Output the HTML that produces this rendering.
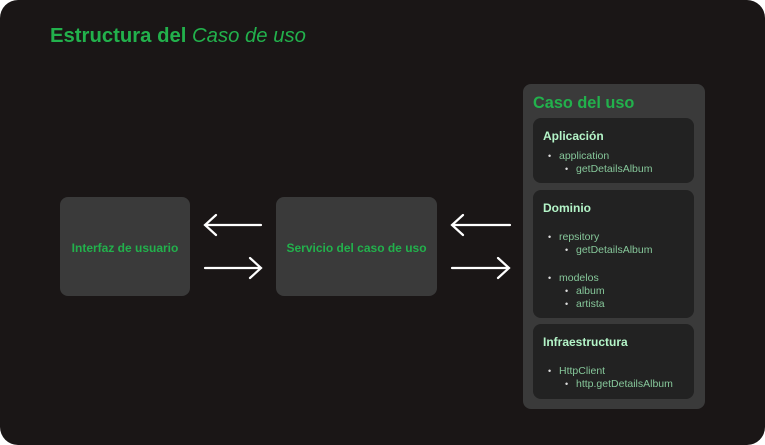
<!DOCTYPE html>
<html><head><style>
*{margin:0;padding:0;box-sizing:border-box}
body{width:765px;height:445px;background:#fff;font-family:"Liberation Sans",sans-serif;overflow:hidden}
#bg{position:absolute;left:0;top:0;width:765px;height:445px;background:#1a1616;border-radius:18px}
.t{position:absolute;left:50px;top:25px;font-size:20.3px;color:#22b14c;font-weight:bold}
.t i{font-weight:normal}
.box{position:absolute;top:197px;height:99px;background:#3a3a3a;border-radius:8px;color:#22b14c;font-weight:bold;font-size:12px;display:flex;align-items:center;justify-content:center;padding-top:2px}
.panel{position:absolute;left:523px;top:84px;width:182px;height:325px;background:#3a3a3a;border-radius:8px}
.pt{position:absolute;left:10px;top:10px;font-size:16.3px;font-weight:bold;color:#22b14c}
.card{position:absolute;left:10px;width:161px;background:#222;border-radius:8px}
.h{position:absolute;left:10px;font-size:12px;font-weight:bold;color:#b4f5c8}
.l{position:absolute;font-size:10.5px;color:#86c79a}
.l::before{content:"•";position:absolute;left:-11px;color:#ddd;font-size:9px;top:1px}
</style></head><body>
<div id="bg"></div>
<div class="t">Estructura del <i>Caso de uso</i></div>
<div class="box" style="left:60px;width:130px">Interfaz de usuario</div>
<div class="box" style="left:276px;width:161px">Servicio del caso de uso</div>
<svg style="position:absolute;left:0;top:0" width="765" height="445" fill="none" stroke="#fff" stroke-width="2.2" stroke-linecap="round">
<path d="M261 225H205M216 215L205 225L216 235"/>
<path d="M205 268H261M250 258L261 268L250 278"/>
<path d="M510 225H452M463 215L452 225L463 235"/>
<path d="M452 268H509M498 258L509 268L498 278"/>
</svg>
<div class="panel">
<div class="pt">Caso del uso</div>
<div class="card" style="top:34px;height:65px">
<div class="h" style="top:11px">Aplicación</div>
<div class="l" style="left:26px;top:32px">application</div>
<div class="l" style="left:43px;top:45px">getDetailsAlbum</div>
</div>
<div class="card" style="top:106px;height:128px">
<div class="h" style="top:11px">Dominio</div>
<div class="l" style="left:26px;top:41px">repsitory</div>
<div class="l" style="left:43px;top:54px">getDetailsAlbum</div>
<div class="l" style="left:26px;top:82px">modelos</div>
<div class="l" style="left:43px;top:95px">album</div>
<div class="l" style="left:43px;top:108px">artista</div>
</div>
<div class="card" style="top:240px;height:75px">
<div class="h" style="top:11px">Infraestructura</div>
<div class="l" style="left:26px;top:41px">HttpClient</div>
<div class="l" style="left:43px;top:54px">http.getDetailsAlbum</div>
</div>
</div>
</body></html>
